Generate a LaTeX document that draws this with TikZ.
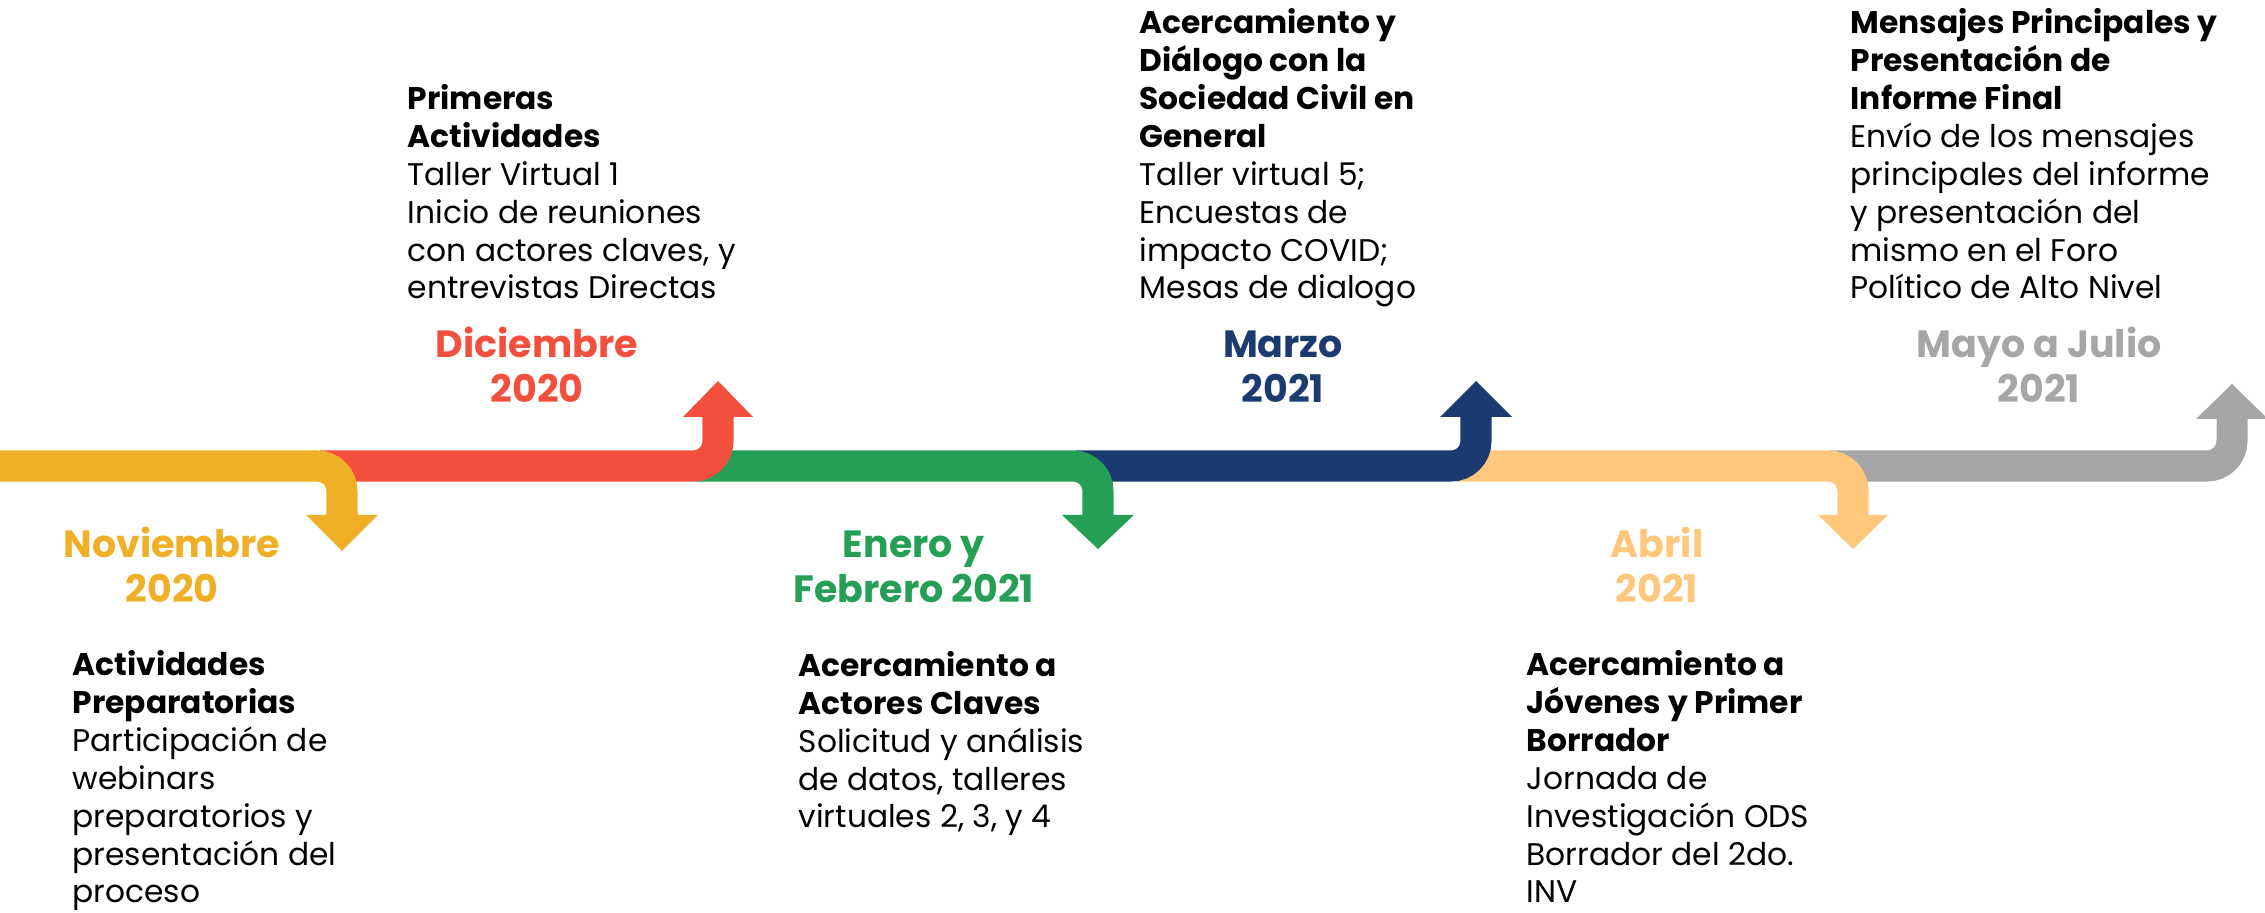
\documentclass[tikz,border=0pt]{standalone}
\usepackage{fontspec}
\setmainfont{Poppins}
\usepackage{xcolor}
\usetikzlibrary{positioning,calc}

\definecolor{tlyellow}{HTML}{EFAF27}
\definecolor{tlred}{HTML}{F2503D}
\definecolor{tlgreen}{HTML}{259F56}
\definecolor{tlnavy}{HTML}{1B3B70}
\definecolor{tlorange}{HTML}{FFC77B}
\definecolor{tlgray}{HTML}{A6A6A6}

\tikzset{
  band/.style={line width=3.1mm, rounded corners=2.5mm},
  month/.style={anchor=base, inner sep=0pt, align=center, font=\fontsize{10.8}{12.8}\selectfont\bfseries},
  blurb/.style={anchor=base west, inner sep=0pt, align=left, font=\fontsize{8.9}{10.8}\selectfont}
}

\begin{document}
\begin{tikzpicture}[x=0.01cm, y=-0.01cm]
				\useasboundingbox (0,0) rectangle (2265,913);
				
				% timeline, last segment first so each one lies over the next
				\draw[band, tlgray] (1830,466) -- (2232,466) -- (2232,418);
				\fill[tlgray] (2196,419) -- (2268,419) -- (2232,384) -- cycle;
				\draw[band, tlorange] (1455,466) -- (1853,466) -- (1853,516);
				\fill[tlorange] (1818,515) -- (1888,515) -- (1853,549) -- cycle;
				\draw[band, tlnavy] (1075,466) -- (1476,466) -- (1476,416);
				\fill[tlnavy] (1440,417) -- (1512,417) -- (1476,381) -- cycle;
				\draw[band, tlgreen] (695,466) -- (1098,466) -- (1098,516);
				\fill[tlgreen] (1062,515) -- (1134,515) -- (1098,549) -- cycle;
				\draw[band, tlred] (320,466) -- (718,466) -- (718,416);
				\fill[tlred] (683,417) -- (753,417) -- (718,381) -- cycle;
				\draw[band, tlyellow] (0,466) -- (342,466) -- (342,516);
				\fill[tlyellow] (306,515) -- (378,515) -- (342,551) -- cycle;
				
				% dates (placed by the baseline of their last line)
				\node[month, text=tlyellow] (nov) at (172,603) {Noviembre\\2020};
				\node[month, text=tlred] (dic) at (537,403) {Diciembre\\2020};
				\node[month, text=tlgreen] (ene) at (914,603) {Enero y\\Febrero 2021};
				\node[month, text=tlnavy] (mar) at (1283,403) {Marzo\\2021};
				\node[month, text=tlorange] (abr) at (1657,603) {Abril\\2021};
				\node[month, text=tlgray] (may) at (2039,403) {Mayo a Julio\\2021};
				
				% activities
				\node[blurb] (prep) at (72,903) {\textbf{Actividades}\\\textbf{Preparatorias}\\Participación de\\webinars\\preparatorios y\\presentación del\\proceso};
				\node[blurb] (prim) at (407,299) {\textbf{Primeras}\\\textbf{Actividades}\\Taller Virtual 1\\Inicio de reuniones\\con actores claves, y\\entrevistas Directas};
				\node[blurb] (acto) at (798,828) {\textbf{Acercamiento a}\\\textbf{Actores Claves}\\Solicitud y análisis\\de datos, talleres\\virtuales 2, 3, y 4};
				\node[blurb] (soci) at (1139,299) {\textbf{Acercamiento y}\\\textbf{Diálogo con la}\\\textbf{Sociedad Civil en}\\\textbf{General}\\Taller virtual 5;\\Encuestas de\\impacto COVID;\\Mesas de dialogo};
				\node[blurb] (jove) at (1526,903) {\textbf{Acercamiento a}\\\textbf{Jóvenes y Primer}\\\textbf{Borrador}\\Jornada de\\Investigación ODS\\Borrador del 2do.\\INV};
				\node[blurb] (mens) at (1850,299) {\textbf{Mensajes Principales y}\\\textbf{Presentación de}\\\textbf{Informe Final}\\Envío de los mensajes\\principales del informe\\y presentación del\\mismo en el Foro\\Político de Alto Nivel};
			\end{tikzpicture}
\end{document}
